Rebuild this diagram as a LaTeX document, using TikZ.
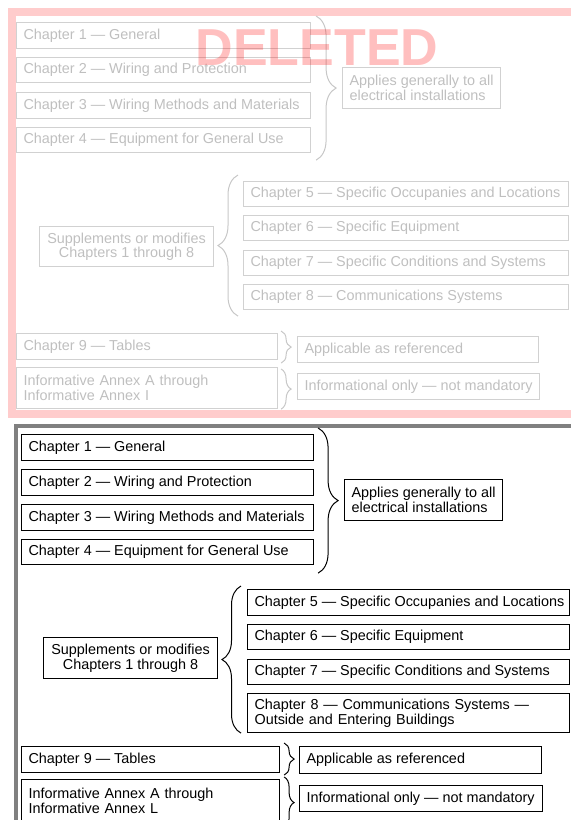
\documentclass[tikz,border=0pt]{standalone}
\usepackage{fontspec}
\setmainfont{Liberation Sans}
\usetikzlibrary{calc,decorations.pathreplacing}

\tikzset{
  base/.style={draw, line width=1.1pt, anchor=north west, inner xsep=7pt, inner ysep=0pt,
    font=\fontsize{14.4}{14.5}\selectfont},
  chbox/.style={base, minimum width=#1,
    execute at begin node={\hbox to \dimexpr#1-14pt\relax\bgroup},
    execute at end node={\hss\egroup}},
  notebox/.style={base, align=left},
  faded/.style={draw=black!18, text=black!25},
  brc/.style={decorate, decoration={brace, amplitude=#1}, line width=1pt},
}

\begin{document}
\begin{tikzpicture}[x=1pt, y=-1pt]
\useasboundingbox (0,0) rectangle (571,820);
\clip (0,0) rectangle (571,820);
%% frames
\fill[red!20] (8,8) rectangle (571,16);
\fill[red!20] (8,8) rectangle (16,418);
\fill[red!20] (8,410) rectangle (571,418);
\fill[gray] (14,424) rectangle (571,428);
\fill[gray] (14,424) rectangle (18,820);

%% old edition
\node[chbox=294pt, faded, minimum height=26pt] (o1) at (16,22) {Chapter 1 --- General};
\node[chbox=294pt, faded, minimum height=25pt] (o2) at (16,57) {Chapter 2 --- Wiring and Protection};
\node[chbox=294pt, faded, minimum height=26pt] (o3) at (16,92) {Chapter 3 --- Wiring Methods and Materials};
\node[chbox=294pt, faded, minimum height=25pt] (o4) at (16,127) {Chapter 4 --- Equipment for General Use};
\node[notebox, faded, minimum height=41pt] (oapp) at (342,67) {Applies generally to all\\electrical installations};
\node[chbox=325pt, faded, minimum height=25pt] (o5) at (243,181) {Chapter 5 --- Specific Occupanies and Locations};
\node[chbox=325pt, faded, minimum height=25pt] (o6) at (243,215) {Chapter 6 --- Specific Equipment};
\node[chbox=325pt, faded, minimum height=25pt] (o7) at (243,250) {Chapter 7 --- Specific Conditions and Systems};
\node[chbox=325pt, faded, minimum height=25pt] (o8) at (243,284) {Chapter 8 --- Communications Systems};
\node[notebox, faded, align=center, minimum width=174pt, minimum height=40pt] (osup) at (39,226) {Supplements or modifies\\Chapters 1 through 8};
\node[chbox=261pt, faded, minimum height=26pt] (o9) at (16,333) {Chapter 9 --- Tables};
\node[notebox, faded, text width=247pt, minimum height=41pt] (oann) at (16,367) {Informative Annex A through\\Informative Annex I};
\node[chbox=241pt, faded, minimum height=26pt] (oappl) at (297,336) {Applicable as referenced};
\node[chbox=242pt, faded, minimum height=26pt] (oinfo) at (297,373) {Informational only --- not mandatory};
%% old braces
\draw[brc=20pt, black!22] ($(o1.north east)+(5,-6)$) -- ($(o4.south east)+(5,7)$);
\draw[brc=20pt, black!22] ($(o8.south west)+(-5,6)$) -- ($(o5.north west)+(-5,-6)$);
\draw[brc=10pt, black!22] ($(o9.north east)+(3,-2)$) -- ($(o9.south east)+(3,3)$);
\draw[brc=10pt, black!22] ($(oann.north east)+(3,2)$) -- ($(oann.south east)+(3,0)$);
%% stamp
\node[font=\fontsize{52}{52}\selectfont\bfseries, text=red, text opacity=0.25, anchor=base, inner sep=0pt] (stamp) at (317,65) {DELETED};

%% current edition
\node[chbox=292pt, minimum height=26pt] (b1) at (21,434) {Chapter 1 --- General};
\node[chbox=292pt, minimum height=26pt] (b2) at (21,469) {Chapter 2 --- Wiring and Protection};
\node[chbox=292pt, minimum height=26pt] (b3) at (21,504) {Chapter 3 --- Wiring Methods and Materials};
\node[chbox=292pt, minimum height=25pt] (b4) at (21,539) {Chapter 4 --- Equipment for General Use};
\node[notebox, minimum height=41pt] (app) at (344,479) {Applies generally to all\\electrical installations};
\node[chbox=322pt, minimum height=26pt] (b5) at (247,589) {Chapter 5 --- Specific Occupanies and Locations};
\node[chbox=322pt, minimum height=25pt] (b6) at (247,624) {Chapter 6 --- Specific Equipment};
\node[chbox=322pt, minimum height=25pt] (b7) at (247,659) {Chapter 7 --- Specific Conditions and Systems};
\node[notebox, text width=308pt, minimum height=39pt] (b8) at (247,693) {Chapter 8 --- Communications Systems ---\\Outside and Entering Buildings};
\node[notebox, align=center, minimum width=174pt, minimum height=41pt] (sup) at (43,637) {Supplements or modifies\\Chapters 1 through 8};
\node[chbox=258pt, minimum height=26pt] (b9) at (21,746) {Chapter 9 --- Tables};
\node[notebox, text width=244pt, minimum height=43pt] (ann) at (21,779) {Informative Annex A through\\Informative Annex L};
\node[chbox=242pt, minimum height=27pt] (appl) at (299,746) {Applicable as referenced};
\node[chbox=243pt, minimum height=26pt] (info) at (299,785) {Informational only --- not mandatory};
%% braces
\draw[brc=20pt] ($(b1.north east)+(4,-6)$) -- ($(b4.south east)+(4,8)$);
\draw[brc=19pt] ($(b8.south west)+(-6,0)$) -- ($(b5.north west)+(-6,-3)$);
\draw[brc=10pt] ($(b9.north east)+(4,-3)$) -- ($(b9.south east)+(4,2)$);
\draw[brc=10pt] ($(ann.north east)+(4,-2)$) -- ($(ann.south east)+(4,5)$);

\end{tikzpicture}
\end{document}
